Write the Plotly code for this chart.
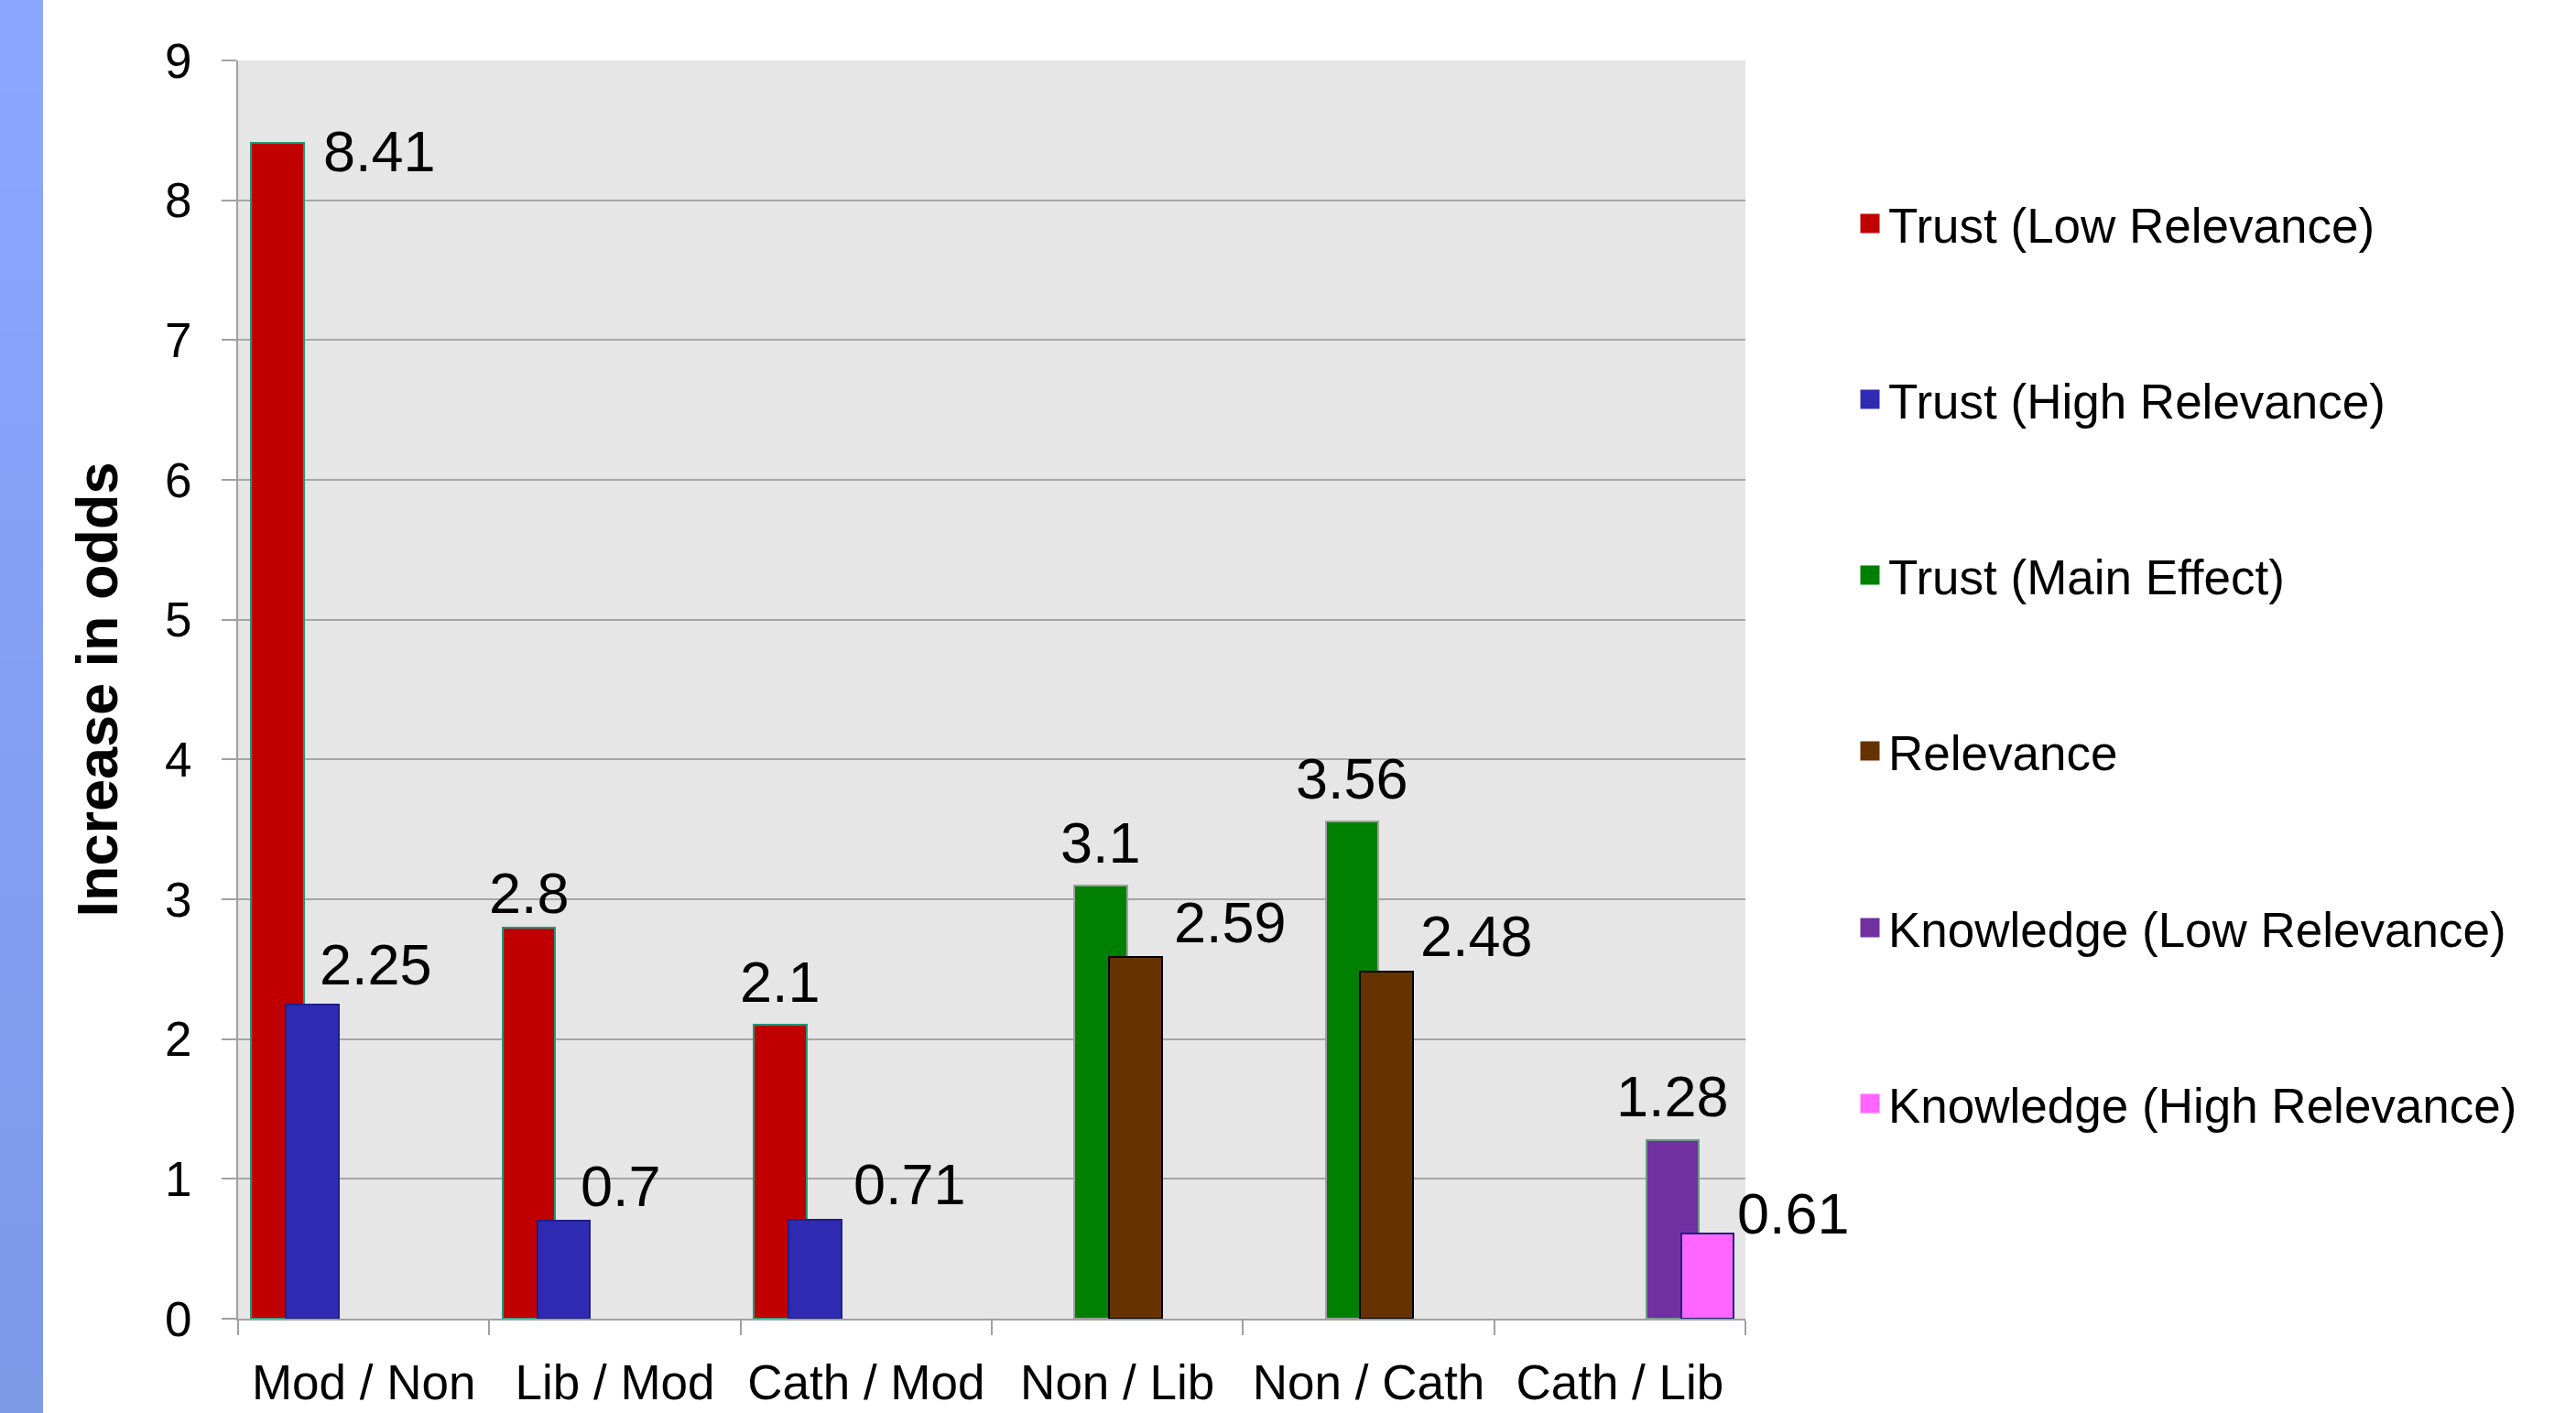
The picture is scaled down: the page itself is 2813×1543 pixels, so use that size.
import plotly.graph_objects as go

# ---------------- data ----------------
categories = ["Mod / Non", "Lib / Mod", "Cath / Mod", "Non / Lib", "Non / Cath", "Cath / Lib"]
series_names = ["Trust (Low Relevance)", "Trust (High Relevance)", "Trust (Main Effect)",
                "Relevance", "Knowledge (Low Relevance)", "Knowledge (High Relevance)"]
trust_low = [8.41, 2.8, 2.1, None, None, None]
trust_high = [2.25, 0.7, 0.71, None, None, None]
trust_main = [None, None, None, 3.1, 3.56, None]
relevance = [None, None, None, 2.59, 2.48, None]
knowledge_low = [None, None, None, None, None, 1.28]
knowledge_high = [None, None, None, None, None, 0.61]
y_ticks = [0, 1, 2, 3, 4, 5, 6, 7, 8, 9]

series_values = [trust_low, trust_high, trust_main, relevance, knowledge_low, knowledge_high]

# ---------------- style ----------------
fills = ["#C00000", "#2E2BB2", "#008000", "#663300", "#7030A0", "#FF66FF"]
outlines = ["#1E9A7C", "#1F1F8C", "#A0A0A0", "#000000", "#6E9A8A", "#202080"]
# data-label offsets (px) relative to bar-top centre: (dx right, dy down)
label_offsets = [
    [(111, 9), (0, -38), (0, -47), None, None, None],
    [(69, -44), (63, -38), (104, -39), None, None, None],
    [None, None, None, (0, -47), (0, -47), None],
    [None, None, None, (104, -38), (98, -39), None],
    [None, None, None, None, None, (0, -48)],
    [None, None, None, None, None, (94, -22)],
]

# page is 2813x1543; the body margin is removed by a post script
W, H = 2813, 1543
PLOT_L, PLOT_R, PLOT_T, PLOT_B = 260, 1906, 66, 1440
L = PLOT_L
T = PLOT_T
PW = PLOT_R - PLOT_L
PH = PLOT_B - PLOT_T
R = W - L - PW
B = H - T - PH
FONT = "Liberation Sans, Arial, sans-serif"

bar_w = 0.2097
bar_step = 0.1382
bar_start = -0.4475


def px_x(p):
    """page x pixel -> paper x"""
    return (p - PLOT_L) / PW


def px_y(p):
    """page y pixel -> paper y"""
    return (PLOT_B - p) / PH


fig = go.Figure()
annotations = []
for s, (name, vals) in enumerate(zip(series_names, series_values)):
    xs = [c for c, v in zip(categories, vals) if v is not None]
    ys = [v for v in vals if v is not None]
    off = bar_start + s * bar_step
    fig.add_trace(go.Bar(
        x=xs, y=ys, name=name, offset=off, width=bar_w,
        marker=dict(color=fills[s], line=dict(color=outlines[s], width=2)),
        showlegend=False, hoverinfo="x+y+name",
    ))
    for ci, v in enumerate(vals):
        if v is None:
            continue
        dx, dy = label_offsets[s][ci]
        annotations.append(dict(
            x=ci + off + bar_w / 2, y=v, xref="x", yref="y",
            text=str(v), showarrow=False, xanchor="center", yanchor="middle",
            xshift=dx, yshift=-dy,
            font=dict(family=FONT, size=63, color="#000000"),
        ))

# legend entries (one legend per item so they can be spaced like the original)
legend_centers = [244, 436, 628, 820, 1013, 1205]
layout_legends = {}
for s, name in enumerate(series_names):
    key = "legend" if s == 0 else f"legend{s + 1}"
    fig.add_trace(go.Scatter(
        x=[None], y=[None], mode="markers", name=name, legend=key,
        marker=dict(symbol="square", size=16, color=fills[s],
                    line=dict(color=fills[s], width=5)),
        showlegend=True, hoverinfo="skip",
    ))
    layout_legends[key] = dict(
        x=px_x(2022), xanchor="left", y=px_y(legend_centers[s]), yanchor="middle",
        bgcolor="rgba(0,0,0,0)", borderwidth=0,
        font=dict(family=FONT, size=53, color="#000000"),
    )

# left decorative strip (gradient)
shapes = []
n_bands = 30
top_c = (0x8A, 0xA6, 0xFF)
bot_c = (0x7E, 0x99, 0xE8)
for i in range(n_bands):
    t = i / (n_bands - 1)
    c = tuple(round(a + (b - a) * t) for a, b in zip(top_c, bot_c))
    y0 = H * i / n_bands
    y1 = H * (i + 1) / n_bands + 1
    shapes.append(dict(
        type="rect", xref="paper", yref="paper", layer="below",
        x0=px_x(0), x1=px_x(47), y0=px_y(y1), y1=px_y(y0),
        fillcolor="rgb(%d,%d,%d)" % c, line=dict(width=0),
    ))

fig.update_layout(
    width=W, height=H,
    margin=dict(l=L, r=R, t=T, b=B, pad=0, autoexpand=False),
    paper_bgcolor="#FFFFFF", plot_bgcolor="#E6E6E6",
    barmode="overlay",
    bargap=0,
    annotations=annotations,
    shapes=shapes,
    font=dict(family=FONT, size=53, color="#000000"),
    xaxis=dict(
        type="category", categoryorder="array", categoryarray=categories,
        range=[-0.5, 5.5], showgrid=False,
        showline=True, linecolor="#A0A0A0", linewidth=2,
        ticks="outside", tickson="boundaries", ticklen=16, tickwidth=2, tickcolor="#A0A0A0",
        tickfont=dict(family=FONT, size=53, color="#000000"),
        ticklabelstandoff=22,
        zeroline=False, fixedrange=True, automargin=False,
    ),
    yaxis=dict(
        range=[0, 9], tickvals=y_ticks, ticktext=[str(v) for v in y_ticks],
        showgrid=True, gridcolor="#A6A6A6", gridwidth=2,
        showline=True, linecolor="#A0A0A0", linewidth=2,
        ticks="outside", ticklen=16, tickwidth=2, tickcolor="#A0A0A0",
        tickfont=dict(family=FONT, size=53, color="#000000"),
        ticklabelstandoff=22,
        zeroline=False, fixedrange=True, automargin=False,
        title=dict(text="Increase in odds", standoff=31,
                   font=dict(family=FONT, size=63, color="#000000", weight="bold")),
    ),
    **layout_legends,
)

fig.write_html(
    "out.html",
    config={"displayModeBar": False},
    post_script="document.body.style.margin='0';document.body.style.overflow='hidden';",
)
